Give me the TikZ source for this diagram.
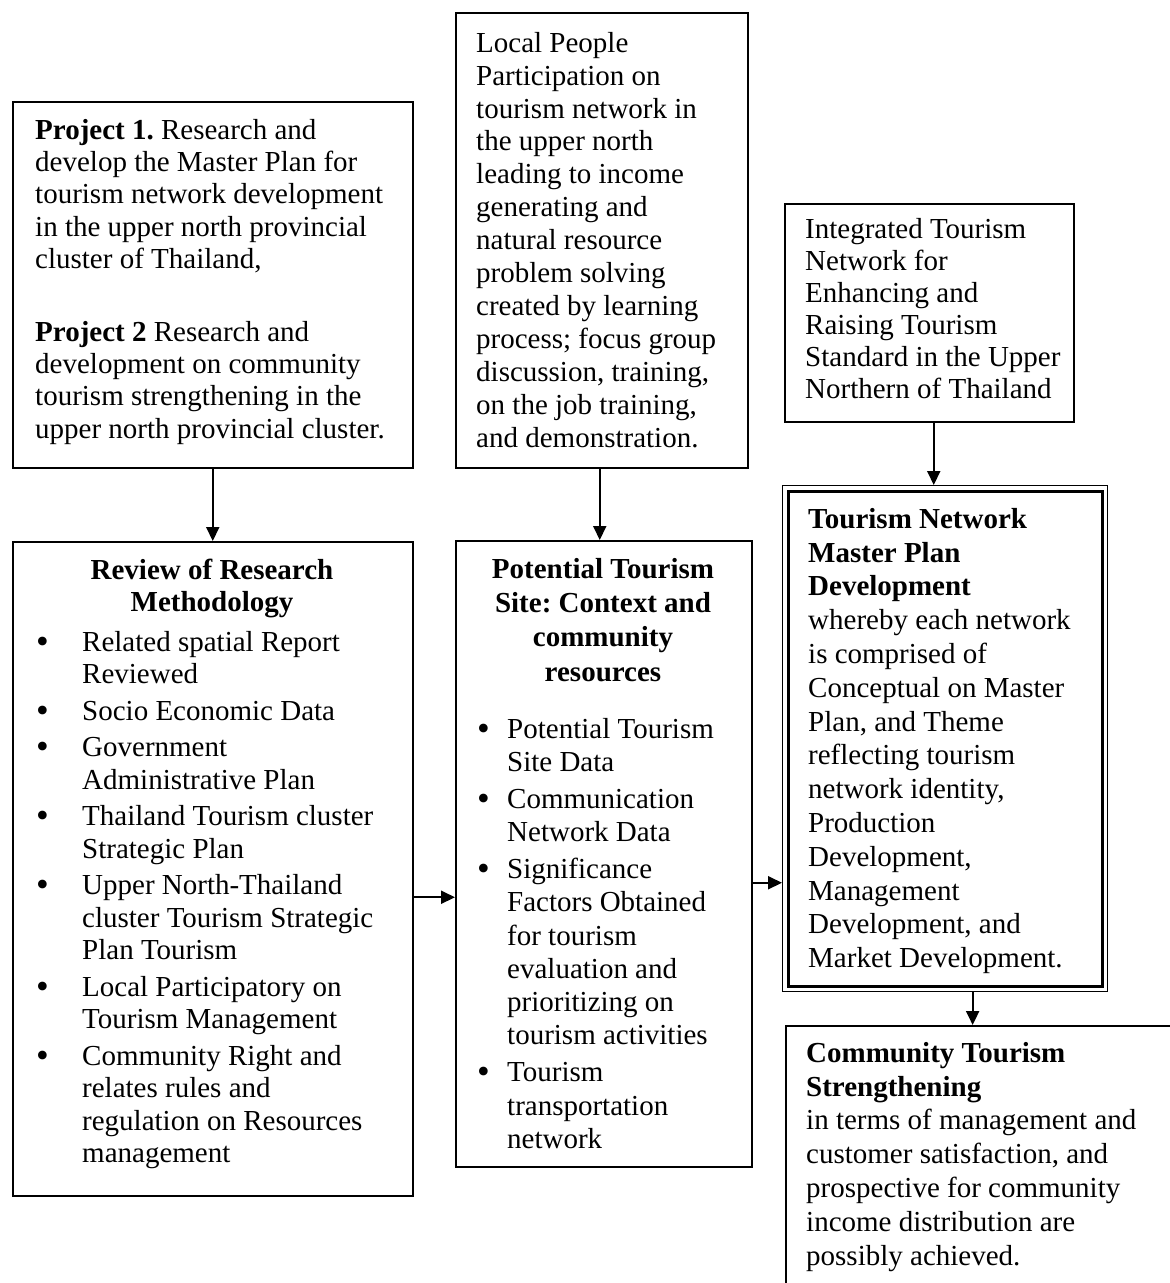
\documentclass[tikz,border=0pt]{standalone}
\usepackage{fontspec}
\usepackage{graphicx}
\setmainfont{Liberation Serif}
\usetikzlibrary{arrows.meta}
\newcommand{\bul}[1]{\makebox[#1][l]{\raisebox{-2pt}{\scalebox{1.25}{\textbullet}}}}
\frenchspacing
\begin{document}
\begin{tikzpicture}[x=1pt,y=-1pt,
  box/.style={draw, line width=1.5pt, inner sep=0pt, anchor=north west},
  txt/.style={anchor=north west, inner sep=0pt, align=left,
    font=\fontsize{29}{#1}\selectfont\frenchspacing, yshift={0.7*#1}},
  ctxt/.style={anchor=north, inner sep=0pt, align=center,
    font=\fontsize{29}{#1}\selectfont\bfseries\frenchspacing, yshift={0.7*#1}},
  arr/.style={line width=2pt, -{Triangle[length=14pt,width=13pt]}}
]
\clip (0,0) rectangle (1170,1283);
\useasboundingbox (0,0) rectangle (1170,1283);

% boxes
\node[box, minimum width=400, minimum height=366] (A) at (12,101) {};
\node[box, minimum width=292, minimum height=455] (B) at (455,12) {};
\node[box, minimum width=289, minimum height=218] (C) at (784,203) {};
\node[box, minimum width=400, minimum height=654] (D) at (12,541) {};
\node[box, minimum width=296, minimum height=626] (E) at (455,540) {};
\node[box, line width=1.3pt, minimum width=325, minimum height=506] (F) at (782,485) {};
\draw[line width=3pt] ([shift={(6,6)}]F.north west) rectangle ([shift={(-6,-6)}]F.south east);
\node[box, minimum width=420, minimum height=300] (G) at (785,1025) {};

% texts
\node[txt=32.3] (ta1) at (35,139) {\strut\textbf{Project 1.} Research and\\develop the Master Plan for\\tourism network development\\in the upper north provincial\\cluster of Thailand,};
\node[txt=32.3] (ta2) at (35,341) {\strut\textbf{Project 2} Research and\\development on community\\tourism strengthening in the\\upper north provincial cluster.};

\node[txt=32.9] (tb) at (476,52) {\strut Local People\\Participation on\\tourism network in\\the upper north\\leading to income\\generating and\\natural resource\\problem solving\\created by learning\\process; focus group\\discussion, training,\\on the job training,\\and demonstration.};

\node[txt=32] (tc) at (805,238) {\strut Integrated Tourism\\Network for\\Enhancing and\\Raising Tourism\\Standard in the Upper\\Northern of Thailand};

\node[ctxt=32] (td) at (212,579) {\strut Review of Research\\Methodology};
\node[txt=32.5] (tdl) at (36,651) {\strut\bul{46pt}Related spatial Report\\\hspace*{46pt}Reviewed\\[4pt]
\bul{46pt}Socio Economic Data\\[4pt]
\bul{46pt}Government\\\hspace*{46pt}Administrative Plan\\[4pt]
\bul{46pt}Thailand Tourism cluster\\\hspace*{46pt}Strategic Plan\\[4pt]
\bul{46pt}Upper North-Thailand\\\hspace*{46pt}cluster Tourism Strategic\\\hspace*{46pt}Plan Tourism\\[4pt]
\bul{46pt}Local Participatory on\\\hspace*{46pt}Tourism Management\\[4pt]
\bul{46pt}Community Right and\\\hspace*{46pt}relates rules and\\\hspace*{46pt}regulation on Resources\\\hspace*{46pt}management};

\node[ctxt=34.3] (te) at (603,578) {\strut Potential Tourism\\Site: Context and\\community\\resources};
\node[txt=33.3] (tel) at (477,738) {\strut\bul{30pt}Potential Tourism\\\hspace*{30pt}Site Data\\[3.5pt]
\bul{30pt}Communication\\\hspace*{30pt}Network Data\\[3.5pt]
\bul{30pt}Significance\\\hspace*{30pt}Factors Obtained\\\hspace*{30pt}for tourism\\\hspace*{30pt}evaluation and\\\hspace*{30pt}prioritizing on\\\hspace*{30pt}tourism activities\\[3.5pt]
\bul{30pt}Tourism\\\hspace*{30pt}transportation\\\hspace*{30pt}network};

\node[txt=33.8] (tf) at (808,528) {\strut\textbf{Tourism Network}\\\textbf{Master Plan}\\\textbf{Development}\\whereby each network\\is comprised of\\Conceptual on Master\\Plan, and Theme\\reflecting tourism\\network identity,\\Production\\Development,\\Management\\Development, and\\Market Development.};

\node[txt=33.8] (tg) at (806,1062) {\strut\textbf{Community Tourism}\\\textbf{Strengthening}\\in terms of management and\\customer satisfaction, and\\prospective for community\\income distribution are\\possibly achieved.};

% connectors
\draw[arr] (A.south) -- (D.north);
\draw[arr] ([xshift=-2pt]B.south) -- ([xshift=-2pt]B.south |- E.north);
\draw[arr] ([xshift=4.5pt]C.south) -- ([xshift=4.5pt]C.south |- F.north);
\draw[arr] ([yshift=-28.5pt]D.east) -- ([yshift=-28.5pt]D.east -| E.west);
\draw[arr] ([yshift=-29pt]E.east) -- ([yshift=-29pt]E.east -| F.west);
\draw[arr] ([xshift=27.5pt]F.south) -- ([xshift=27.5pt]F.south |- G.north);
\end{tikzpicture}
\end{document}
